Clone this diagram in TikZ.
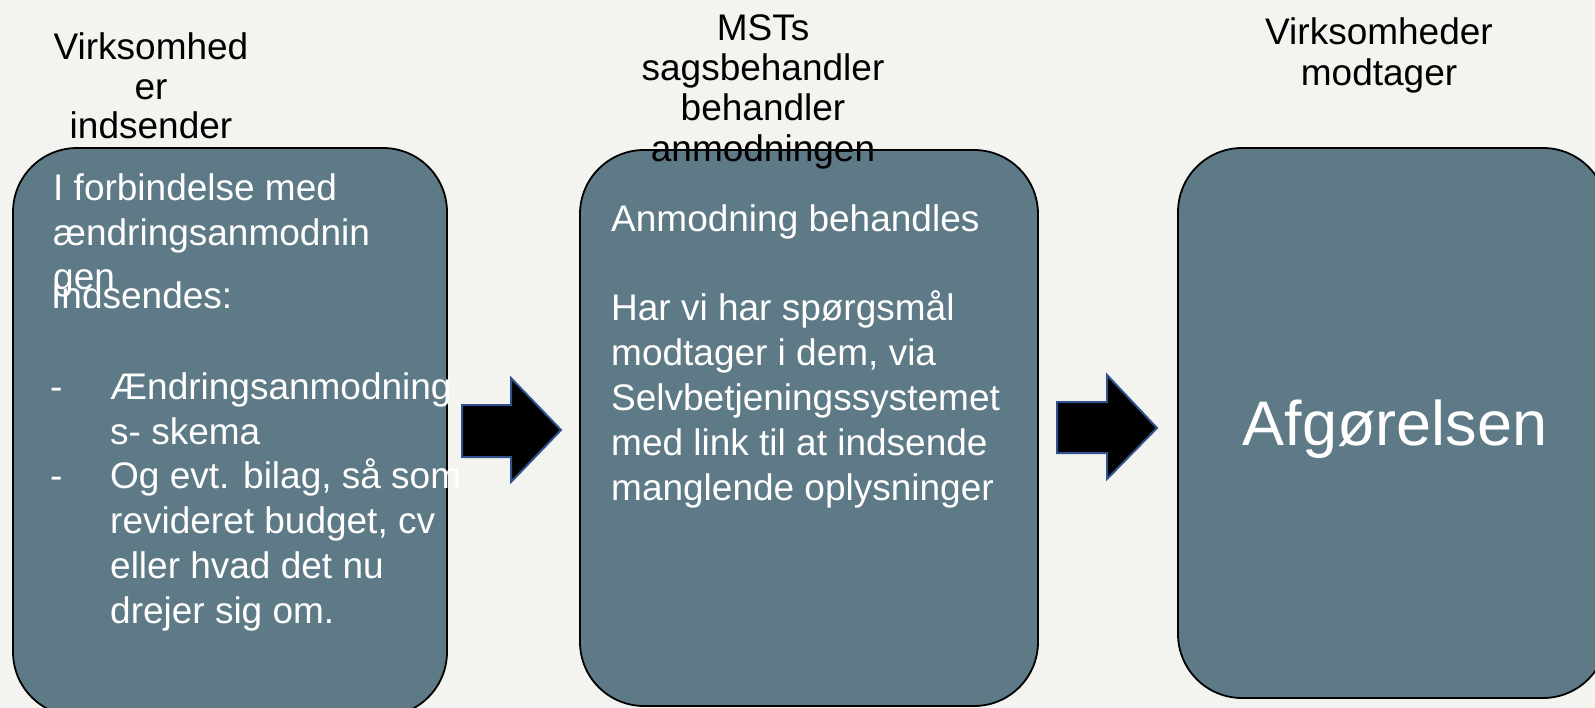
\documentclass[tikz,border=0pt]{standalone}
\usepackage{fontspec}
\setmainfont{Liberation Sans}
\definecolor{bgcol}{RGB}{243,243,239}
\definecolor{boxcol}{RGB}{94,122,134}
\definecolor{arrowedge}{RGB}{47,82,143}
\tikzset{
  stepbox/.style={draw=black, line width=1.8bp, fill=boxcol, rounded corners=64bp},
  boxtxt/.style={anchor=base west, inner sep=0pt, text=white, font=\fontsize{37bp}{44bp}\selectfont},
  headtxt/.style={anchor=base, inner sep=0pt, text=black, font=\fontsize{37bp}{44bp}\selectfont},
  bigtxt/.style={anchor=base, inner sep=0pt, text=white, font=\fontsize{63bp}{70bp}\selectfont},
  blockarrow/.style={fill=black, draw=arrowedge, line width=2bp, line join=miter}
}
\begin{document}
\begin{tikzpicture}[x=1bp, y=-1bp]
\useasboundingbox (0,0) rectangle (1595,708);
\fill[bgcol] (0,0) rectangle (1595,708);

% boxes
\draw[stepbox] (13,148) rectangle (447,716);
\draw[stepbox] (580,150) rectangle (1038,706);
\draw[stepbox] (1178,148) rectangle (1607,698);

% headings
\node[headtxt] (h1a) at (151,60) {Virksomhed};
\node[headtxt] (h1b) at (151,100) {er};
\node[headtxt] (h1c) at (151,139) {indsender};

\node[headtxt] (h2a) at (763,41) {MSTs};
\node[headtxt] (h2b) at (763,81) {sagsbehandler};
\node[headtxt] (h2c) at (763,121) {behandler};
\node[headtxt] (h2d) at (763,161) {anmodningen};

\node[headtxt] (h3a) at (1379,45) {Virksomheder};
\node[headtxt] (h3b) at (1379,86) {modtager};

% box 1 text
\node[boxtxt] (t1a) at (53,200) {I forbindelse med};
\node[boxtxt] (t1b) at (53,245) {ændringsanmodnin};
\node[boxtxt] (t1c) at (53,289) {gen};
\node[boxtxt] (t1d) at (51,308) {Indsendes:};
\node[boxtxt] (d1) at (50,399) {-};
\node[boxtxt] (t1e) at (110,399) {Ændringsanmodning};
\node[boxtxt] (t1f) at (110,444) {s- skema};
\node[boxtxt] (d2) at (50,488) {-};
\node[boxtxt] (t1g) at (110,488) {Og evt. bilag, så som};
\node[boxtxt] (t1h) at (110,533) {revideret budget, cv};
\node[boxtxt] (t1i) at (110,578) {eller hvad det nu};
\node[boxtxt] (t1j) at (110,623) {drejer sig om.};

% box 2 text
\node[boxtxt] (t2a) at (611,231) {Anmodning behandles};
\node[boxtxt] (t2b) at (611,320) {Har vi har spørgsmål};
\node[boxtxt] (t2c) at (611,365) {modtager i dem, via};
\node[boxtxt] (t2d) at (611,410) {Selvbetjeningssystemet};
\node[boxtxt] (t2e) at (611,455) {med link til at indsende};
\node[boxtxt] (t2f) at (611,500) {manglende oplysninger};

% box 3 text
\node[bigtxt] (t3) at (1395,445) {Afgørelsen};

% block arrows
\draw[blockarrow] (462,405) -- (511,405) -- (511,378) -- (561,430) -- (511,482) -- (511,457) -- (462,457) -- cycle;
\draw[blockarrow] (1057,402) -- (1107,402) -- (1107,375) -- (1157,428) -- (1107,479) -- (1107,453) -- (1057,453) -- cycle;
\end{tikzpicture}
\end{document}
